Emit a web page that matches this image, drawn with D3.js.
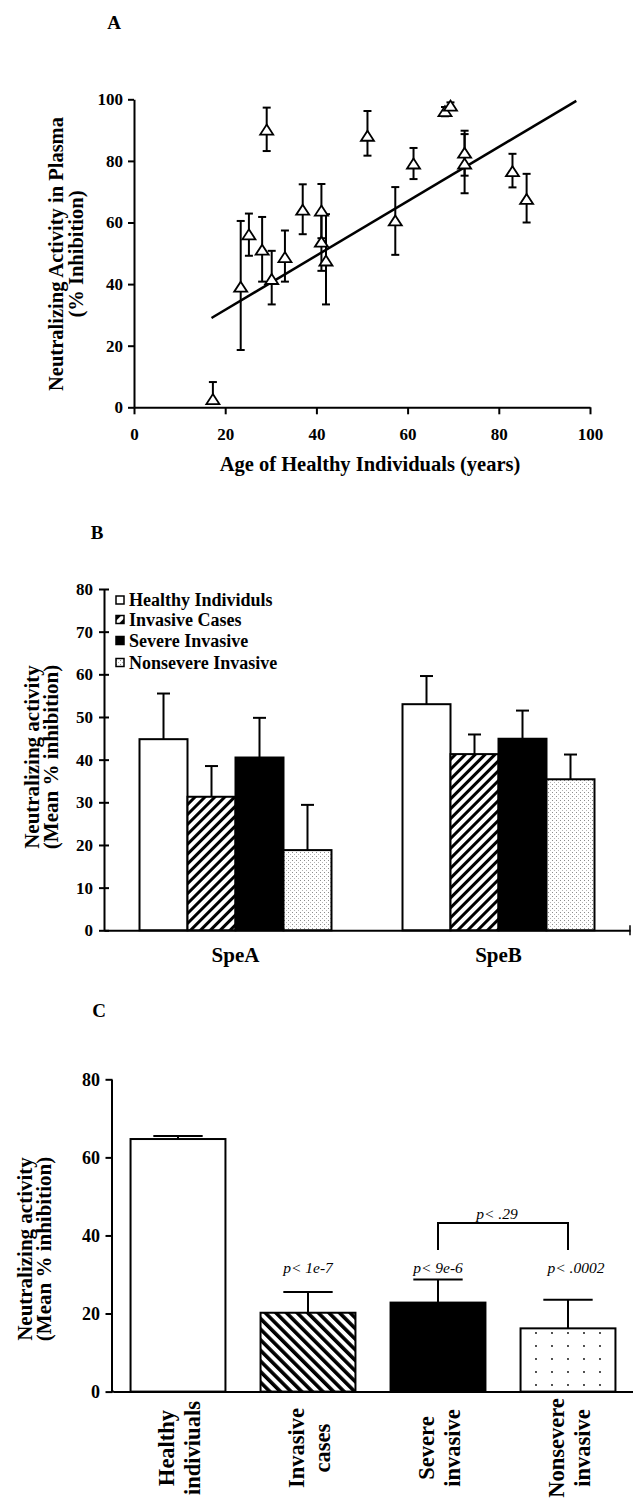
<!DOCTYPE html>
<html>
<head>
<meta charset="utf-8">
<script src="https://cdn.jsdelivr.net/npm/d3@7"></script>
<style>
  body { margin: 0; background: #fff; }
  svg { display: block; }
  text { font-family: "Liberation Serif", "Times New Roman", serif; font-weight: bold; fill: #000; }
  .pval { font-style: italic; font-weight: normal; }
</style>
</head>
<body>
<div id="chart"></div>
<script>
// ----------------- Data -----------------
// Panel A: age of healthy individuals vs neutralizing activity
var ageYears      = [17.3, 23.4, 25.2, 28.1, 29.1, 30.2, 33.1, 37.0, 41.1, 41.1, 42.1, 51.2, 57.3, 61.3, 68.2, 69.4, 72.5, 72.5, 83.0, 86.1];
var inhibitionPct = [2.5, 39.0, 56.0, 51.0, 90.0, 41.5, 48.6, 64.0, 63.7, 53.6, 47.5, 88.0, 60.5, 79.0, 96.0, 97.8, 82.5, 79.0, 76.5, 67.5];
var inhibitionHi  = [8.2, 60.5, 62.9, 61.8, 97.3, 50.8, 57.4, 72.4, 72.5, 62.9, 62.7, 96.2, 71.5, 84.2, 97.5, 99.0, 89.8, 88.7, 82.3, 75.8];
var inhibitionLo  = [2.5, 18.6, 49.2, 40.8, 83.2, 33.4, 40.8, 56.2, 54.9, 44.3, 33.4, 81.7, 49.5, 74.1, 94.5, 97.0, 75.2, 69.5, 71.4, 60.0];
var fitAge = [17, 97];
var fitPct = [29, 99.5];
var ticksA = [0, 20, 40, 60, 80, 100];

// Panel B: toxin neutralization by group
var toxins  = ["SpeA", "SpeB"];
var groupsB = ["Healthy Individuls", "Invasive Cases", "Severe Invasive", "Nonsevere Invasive"];
var meanSpeA = [44.8, 31.3, 40.5, 18.8];
var errSpeA  = [55.5, 38.5, 49.8, 29.4];
var meanSpeB = [53.0, 41.3, 44.9, 35.4];
var errSpeB  = [59.6, 45.9, 51.5, 41.2];
var ticksB = [0, 10, 20, 30, 40, 50, 60, 70, 80];

// Panel C: overall neutralization by group
var groupsC = [["Healthy", "indiviuals"], ["Invasive", "cases"], ["Severe", "invasive"], ["Nonsevere", "invasive"]];
var meanC = [64.7, 20.2, 22.8, 16.2];
var errC  = [65.5, 25.5, 28.7, 23.5];
var pLabelsC = ["", "p< 1e-7", "p< 9e-6", "p< .0002"];
var pLevelC = 30.4;
var bracketIdx = [2, 3];
var bracketTop = 43.2;
var bracketFoot = 36.3;
var bracketLabel = "p< .29";
var ticksC = [0, 20, 40, 60, 80];

// ----------------- SVG -----------------
var svgWidth = 633, svgHeight = 1500;
var svg = d3.select("#chart").append("svg")
            .attr("width", svgWidth)
            .attr("height", svgHeight);
svg.append("rect").attr("width", svgWidth).attr("height", svgHeight).attr("fill", "#fff");

// patterns
var defs = svg.append("defs");
function stripes(id, size, thick, angle) {
  var p = defs.append("pattern").attr("id", id)
              .attr("patternUnits", "userSpaceOnUse")
              .attr("width", size).attr("height", size)
              .attr("patternTransform", `rotate(${angle})`);
  p.append("rect").attr("width", size).attr("height", size).attr("fill", "#fff");
  p.append("rect").attr("width", thick).attr("height", size).attr("fill", "#000");
}
stripes("hatchB", 7, 3, 45);
stripes("hatchC", 7.5, 3.6, -45);

var stip = defs.append("pattern").attr("id", "stippleB")
               .attr("patternUnits", "userSpaceOnUse").attr("width", 4).attr("height", 4);
stip.append("rect").attr("width", 4).attr("height", 4).attr("fill", "#fff");
stip.append("rect").attr("x", 0).attr("y", 0).attr("width", 1).attr("height", 1).attr("fill", "#8c8c8c");
stip.append("rect").attr("x", 2).attr("y", 2).attr("width", 1).attr("height", 1).attr("fill", "#b4b4b4");

var dotsC = defs.append("pattern").attr("id", "dotsC")
                .attr("patternUnits", "userSpaceOnUse").attr("width", 16).attr("height", 13);
dotsC.append("rect").attr("width", 16).attr("height", 13).attr("fill", "#fff");
dotsC.append("circle").attr("cx", 8).attr("cy", 7).attr("r", 0.9).attr("fill", "#000");

var fillsB = ["#fff", "url(#hatchB)", "#000", "url(#stippleB)"];
var fillsC = ["#fff", "url(#hatchC)", "#000", "url(#dotsC)"];

function styleAxis(g, size) {
  g.attr("font-size", size);
  g.selectAll(".domain, .tick line").attr("stroke", "#000").attr("stroke-width", 2);
  g.selectAll("text").attr("fill", "#000");
}

// rotated two-line title, centred on (cx, cy)
function rotatedTitle(lines, xs, cy, size) {
  lines.forEach(function(t, i) {
    svg.append("text")
       .attr("transform", `translate(${xs[i]},${cy}) rotate(-90)`)
       .attr("text-anchor", "middle")
       .attr("font-size", size)
       .text(t);
  });
}

// ----------------- Panel A -----------------
var xA = d3.scaleLinear().domain([0, 100]).range([134, 590]);
var yA = d3.scaleLinear().domain([0, 100]).range([407.3, 99.3]);

svg.append("text").attr("x", 114).attr("y", 29).attr("text-anchor", "middle")
   .attr("font-size", 19).text("A");

var xAxisA = svg.append("g").attr("transform", `translate(0,${yA(0)})`)
   .call(d3.axisBottom(xA).tickValues(ticksA).tickSize(7).tickSizeOuter(0).tickPadding(14));
styleAxis(xAxisA, 17);
var yAxisA = svg.append("g").attr("transform", `translate(${xA(0)},0)`)
   .call(d3.axisLeft(yA).tickValues(ticksA).tickSize(6).tickSizeOuter(0).tickPadding(5));
styleAxis(yAxisA, 17);

// regression line
svg.append("line")
   .attr("x1", xA(fitAge[0])).attr("y1", yA(fitPct[0]))
   .attr("x2", xA(fitAge[1])).attr("y2", yA(fitPct[1]))
   .attr("stroke", "#000").attr("stroke-width", 2.5);

// error bars
var pointsA = ageYears.map(function(a, i) {
  return { age: a, v: inhibitionPct[i], hi: inhibitionHi[i], lo: inhibitionLo[i] };
});
var errA = svg.append("g").attr("stroke", "#000").attr("stroke-width", 2);
pointsA.forEach(function(d) {
  var x = xA(d.age);
  errA.append("line").attr("x1", x).attr("x2", x).attr("y1", yA(d.lo)).attr("y2", yA(d.hi));
  errA.append("line").attr("x1", x - 4).attr("x2", x + 4).attr("y1", yA(d.hi)).attr("y2", yA(d.hi));
  if (d.lo < d.v) {
    errA.append("line").attr("x1", x - 4).attr("x2", x + 4).attr("y1", yA(d.lo)).attr("y2", yA(d.lo));
  }
});
// triangles
svg.append("g").selectAll("path").data(pointsA).enter().append("path")
   .attr("d", function(d) {
     var x = xA(d.age), y = yA(d.v);
     return `M${x},${y - 5.5} L${x + 6.5},${y + 4.5} L${x - 6.5},${y + 4.5} Z`;
   })
   .attr("fill", "#fff").attr("stroke", "#000").attr("stroke-width", 1.8)
   .attr("stroke-linejoin", "miter");

svg.append("text").attr("x", 370).attr("y", 471).attr("text-anchor", "middle")
   .attr("font-size", 20.5).text("Age of Healthy Individuals (years)");
rotatedTitle(["Neutralizing Activity in Plasma", "(% Inhibition)"], [63, 83], 254, 20.5);

// ----------------- Panel B -----------------
var yB = d3.scaleLinear().domain([0, 80]).range([930.3, 589]);
var xB0 = d3.scaleBand().domain(toxins).range([104, 630]).paddingInner(0.27).paddingOuter(0.135);
var xB1 = d3.scaleBand().domain(groupsB).range([0, xB0.bandwidth()]);

svg.append("text").attr("x", 97).attr("y", 539).attr("text-anchor", "middle")
   .attr("font-size", 19).text("B");

var rowsB = [];
toxins.forEach(function(t, ti) {
  var means = ti === 0 ? meanSpeA : meanSpeB;
  var errs = ti === 0 ? errSpeA : errSpeB;
  groupsB.forEach(function(g, gi) {
    rowsB.push({ toxin: t, group: g, gi: gi, mean: means[gi], err: errs[gi] });
  });
});

var barsB = svg.append("g");
barsB.selectAll("rect").data(rowsB).enter().append("rect")
     .attr("x", d => xB0(d.toxin) + xB1(d.group))
     .attr("y", d => yB(d.mean))
     .attr("width", xB1.bandwidth())
     .attr("height", d => yB(0) - yB(d.mean))
     .attr("fill", d => fillsB[d.gi])
     .attr("stroke", "#000").attr("stroke-width", 2);

var errB = svg.append("g").attr("stroke", "#000").attr("stroke-width", 2);
rowsB.forEach(function(d) {
  var cx = xB0(d.toxin) + xB1(d.group) + xB1.bandwidth() / 2;
  errB.append("line").attr("x1", cx).attr("x2", cx).attr("y1", yB(d.mean)).attr("y2", yB(d.err));
  errB.append("line").attr("x1", cx - 6.5).attr("x2", cx + 6.5).attr("y1", yB(d.err)).attr("y2", yB(d.err));
});

var xAxisB = svg.append("g").attr("transform", `translate(0,${yB(0)})`)
   .call(d3.axisBottom(xB0).tickSize(0).tickSizeOuter(0).tickPadding(17));
styleAxis(xAxisB, 21);
// small end tick on the right of the x axis
svg.append("line").attr("x1", xB0.range()[1]).attr("x2", xB0.range()[1])
   .attr("y1", yB(0) - 5).attr("y2", yB(0) + 5).attr("stroke", "#000").attr("stroke-width", 1.5);

var yAxisB = svg.append("g").attr("transform", `translate(104,0)`)
   .call(d3.axisLeft(yB).tickValues(ticksB).tickSize(5).tickSizeOuter(0).tickPadding(6));
styleAxis(yAxisB, 17);
yAxisB.selectAll(".tick line").attr("x1", 5);

// legend
var legendY = [600, 619.5, 640.5, 662.5];
var legendB = svg.append("g");
groupsB.forEach(function(g, i) {
  legendB.append("rect").attr("x", 116).attr("y", legendY[i] - 4).attr("width", 8).attr("height", 8)
         .attr("fill", fillsB[i]).attr("stroke", "#000").attr("stroke-width", 1.5);
  legendB.append("text").attr("x", 129).attr("y", legendY[i] + 6).attr("font-size", 18).text(g);
});

rotatedTitle(["Neutralizing activity", "(Mean % inhibition)"], [39, 57.5], 757, 21);

// ----------------- Panel C -----------------
var yC = d3.scaleLinear().domain([0, 80]).range([1391.6, 1079.3]);
var xC = d3.scaleBand().domain(d3.range(groupsC.length)).range([113, 633]).paddingInner(0.27).paddingOuter(0.135);

svg.append("text").attr("x", 99).attr("y", 1017).attr("text-anchor", "middle")
   .attr("font-size", 19).text("C");

var barsC = svg.append("g");
barsC.selectAll("rect").data(meanC).enter().append("rect")
     .attr("x", (d, i) => xC(i))
     .attr("y", d => yC(d))
     .attr("width", xC.bandwidth())
     .attr("height", d => yC(0) - yC(d))
     .attr("fill", (d, i) => fillsC[i])
     .attr("stroke", "#000").attr("stroke-width", 2);

var errCg = svg.append("g").attr("stroke", "#000").attr("stroke-width", 2);
meanC.forEach(function(m, i) {
  var cx = xC(i) + xC.bandwidth() / 2;
  var half = xC.bandwidth() * 0.26;
  errCg.append("line").attr("x1", cx).attr("x2", cx).attr("y1", yC(m)).attr("y2", yC(errC[i]));
  errCg.append("line").attr("x1", cx - half).attr("x2", cx + half).attr("y1", yC(errC[i])).attr("y2", yC(errC[i]));
});

// p-value labels
pLabelsC.forEach(function(t, i) {
  if (!t) return;
  svg.append("text").attr("class", "pval")
     .attr("x", xC(i) + xC.bandwidth() / 2 + (i === 3 ? 8 : 0))
     .attr("y", yC(pLevelC))
     .attr("text-anchor", "middle").attr("font-size", 15.5).text(t);
});

// bracket between severe and nonsevere
var bx1 = xC(bracketIdx[0]) + xC.bandwidth() / 2;
var bx2 = xC(bracketIdx[1]) + xC.bandwidth() / 2;
svg.append("path")
   .attr("d", `M${bx1},${yC(bracketFoot)} V${yC(bracketTop)} H${bx2} V${yC(bracketFoot)}`)
   .attr("fill", "none").attr("stroke", "#000").attr("stroke-width", 2);
svg.append("text").attr("class", "pval")
   .attr("x", (bx1 + bx2) / 2 - 6).attr("y", yC(bracketTop) - 4)
   .attr("text-anchor", "middle").attr("font-size", 15.5).text(bracketLabel);

var xAxisC = svg.append("g").attr("transform", `translate(0,${yC(0)})`)
   .call(d3.axisBottom(xC).tickSize(0).tickSizeOuter(0).tickFormat(""));
styleAxis(xAxisC, 10);
svg.append("line").attr("x1", 111).attr("x2", 114).attr("y1", yC(0)).attr("y2", yC(0))
   .attr("stroke", "#000").attr("stroke-width", 2);

var yAxisC = svg.append("g").attr("transform", `translate(111.5,0)`)
   .call(d3.axisLeft(yC).tickValues(ticksC).tickSize(6).tickSizeOuter(0).tickPadding(5.5));
styleAxis(yAxisC, 18);
yAxisC.selectAll(".tick line").attr("x1", 1);

// rotated two-line category labels
groupsC.forEach(function(lines, i) {
  var cx = xC(i) + xC.bandwidth() / 2 + 1;
  lines.forEach(function(t, li) {
    svg.append("text")
       .attr("transform", `translate(${cx + (li === 0 ? -13 : 13) + 7.5},1448) rotate(-90)`)
       .attr("text-anchor", "middle")
       .attr("font-size", 22.5)
       .text(t);
  });
});

rotatedTitle(["Neutralizing activity", "(Mean % inhibition)"], [32, 50.5], 1249, 21);
</script>
</body>
</html>
